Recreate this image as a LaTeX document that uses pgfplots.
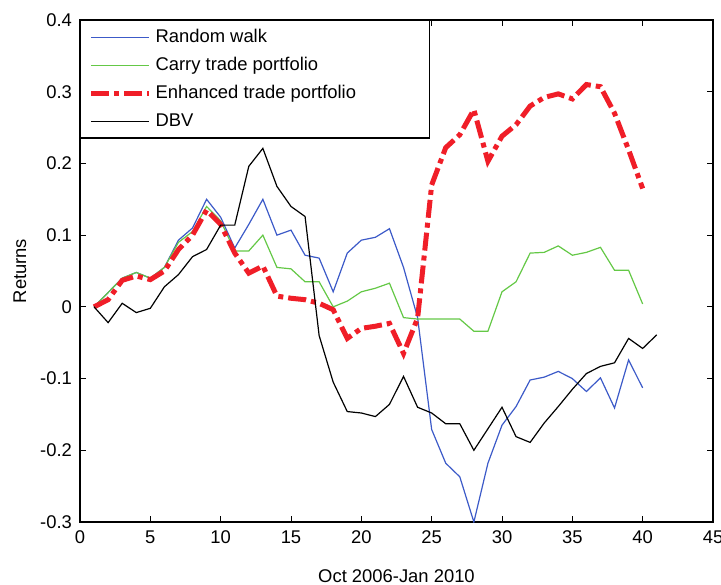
\documentclass[border=0pt]{standalone}
\usepackage{pgfplots}
\pgfplotsset{compat=1.18}
\usepackage{fontspec}
\setmainfont{Liberation Sans}
\definecolor{rwblue}{RGB}{60,90,200}
\definecolor{ctgreen}{RGB}{100,200,70}
\definecolor{etred}{RGB}{240,30,40}
\begin{document}
\begin{tikzpicture}
\useasboundingbox (-40pt,-31pt) rectangle (320.5pt,261pt);
\begin{axis}[
  scale only axis,
  width=316.5pt, height=251pt,
  xmin=0, xmax=45, ymin=-0.3, ymax=0.4,
  xtick={0,5,...,45},
  ytick={-0.3,-0.2,-0.1,0,0.1,0.2,0.3,0.4},
  yticklabels={-0.3,-0.2,-0.1,0,0.1,0.2,0.3,0.4},
  tick align=inside,
  major tick length=3pt,
  tick style={black, line width=0.5pt},
  axis line style={line width=0.6pt},
  every tick label/.append style={font=\fontsize{9.2}{11}\selectfont},
  /pgf/number format/assume math mode=true,
  xlabel={Oct 2006-Jan 2010},
  ylabel={Returns},
  label style={font=\fontsize{9.2}{11}\selectfont},
  xlabel style={at={(axis description cs:0.5,0)}, anchor=north, yshift=-20.5pt},
  ylabel style={at={(axis description cs:-0.0948,0.5)}, anchor=center},
  xticklabel style={yshift=-1pt},
  yticklabel style={xshift=-0.5pt},
  legend style={at={(0,1)}, anchor=north west, draw=black, line width=0.6pt, fill=white,
    font=\fontsize{9.2}{11}\selectfont, inner xsep=4pt, inner ysep=2.5pt,
    row sep=1.8pt},
  legend cell align=left,
  legend image code/.code={\draw[#1] plot coordinates {(0pt,0pt) (29pt,0pt)};},
]
\addplot[rwblue, line width=0.6pt] coordinates {
(1,0) (2,0.02) (3,0.04) (4,0.048) (5,0.04) (6,0.055) (7,0.093) (8,0.11) (9,0.15) (10,0.125)
(11,0.082) (12,0.115) (13,0.15) (14,0.1) (15,0.107) (16,0.072) (17,0.068) (18,0.021) (19,0.075) (20,0.093)
(21,0.097) (22,0.109) (23,0.055) (24,-0.015) (25,-0.171) (26,-0.218) (27,-0.237) (28,-0.3) (29,-0.218) (30,-0.165)
(31,-0.139) (32,-0.102) (33,-0.098) (34,-0.09) (35,-0.1) (36,-0.118) (37,-0.099) (38,-0.141) (39,-0.074) (40,-0.113)
};
\addlegendentry{\makebox[131pt][l]{Random walk}}
\addplot[ctgreen, line width=0.6pt] coordinates {
(1,0) (2,0.02) (3,0.04) (4,0.048) (5,0.04) (6,0.055) (7,0.09) (8,0.105) (9,0.14) (10,0.12)
(11,0.078) (12,0.078) (13,0.1) (14,0.055) (15,0.053) (16,0.035) (17,0.035) (18,0.0) (19,0.008) (20,0.021)
(21,0.026) (22,0.033) (23,-0.015) (24,-0.017) (25,-0.017) (26,-0.017) (27,-0.017) (28,-0.034) (29,-0.034) (30,0.021)
(31,0.035) (32,0.075) (33,0.076) (34,0.085) (35,0.072) (36,0.076) (37,0.083) (38,0.051) (39,0.051) (40,0.004)
};
\addlegendentry{Carry trade portfolio}
\addplot[etred, line width=2.5pt, dash pattern=on 9pt off 2.5pt on 2.5pt off 2.5pt] coordinates {
(1,0) (2,0.01) (3,0.037) (4,0.043) (5,0.038) (6,0.05) (7,0.08) (8,0.1) (9,0.135) (10,0.115)
(11,0.075) (12,0.047) (13,0.057) (14,0.015) (15,0.012) (16,0.01) (17,0.005) (18,-0.004) (19,-0.044) (20,-0.03)
(21,-0.027) (22,-0.023) (23,-0.065) (24,-0.016) (25,0.17) (26,0.222) (27,0.24) (28,0.275) (29,0.203) (30,0.238)
(31,0.254) (32,0.28) (33,0.292) (34,0.297) (35,0.29) (36,0.31) (37,0.307) (38,0.27) (39,0.219) (40,0.165)
};
\addlegendentry{Enhanced trade portfolio}
\addplot[black, line width=0.6pt] coordinates {
(1,0) (2,-0.022) (3,0.005) (4,-0.008) (5,-0.002) (6,0.028) (7,0.045) (8,0.07) (9,0.08) (10,0.114)
(11,0.114) (12,0.196) (13,0.221) (14,0.168) (15,0.14) (16,0.126) (17,-0.04) (18,-0.105) (19,-0.146) (20,-0.148)
(21,-0.153) (22,-0.136) (23,-0.097) (24,-0.14) (25,-0.148) (26,-0.163) (27,-0.163) (28,-0.2) (29,-0.17) (30,-0.14)
(31,-0.181) (32,-0.189) (33,-0.162) (34,-0.139) (35,-0.115) (36,-0.093) (37,-0.083) (38,-0.078) (39,-0.044) (40,-0.058) (41,-0.039)
};
\addlegendentry{DBV}
\end{axis}
\end{tikzpicture}
\end{document}
